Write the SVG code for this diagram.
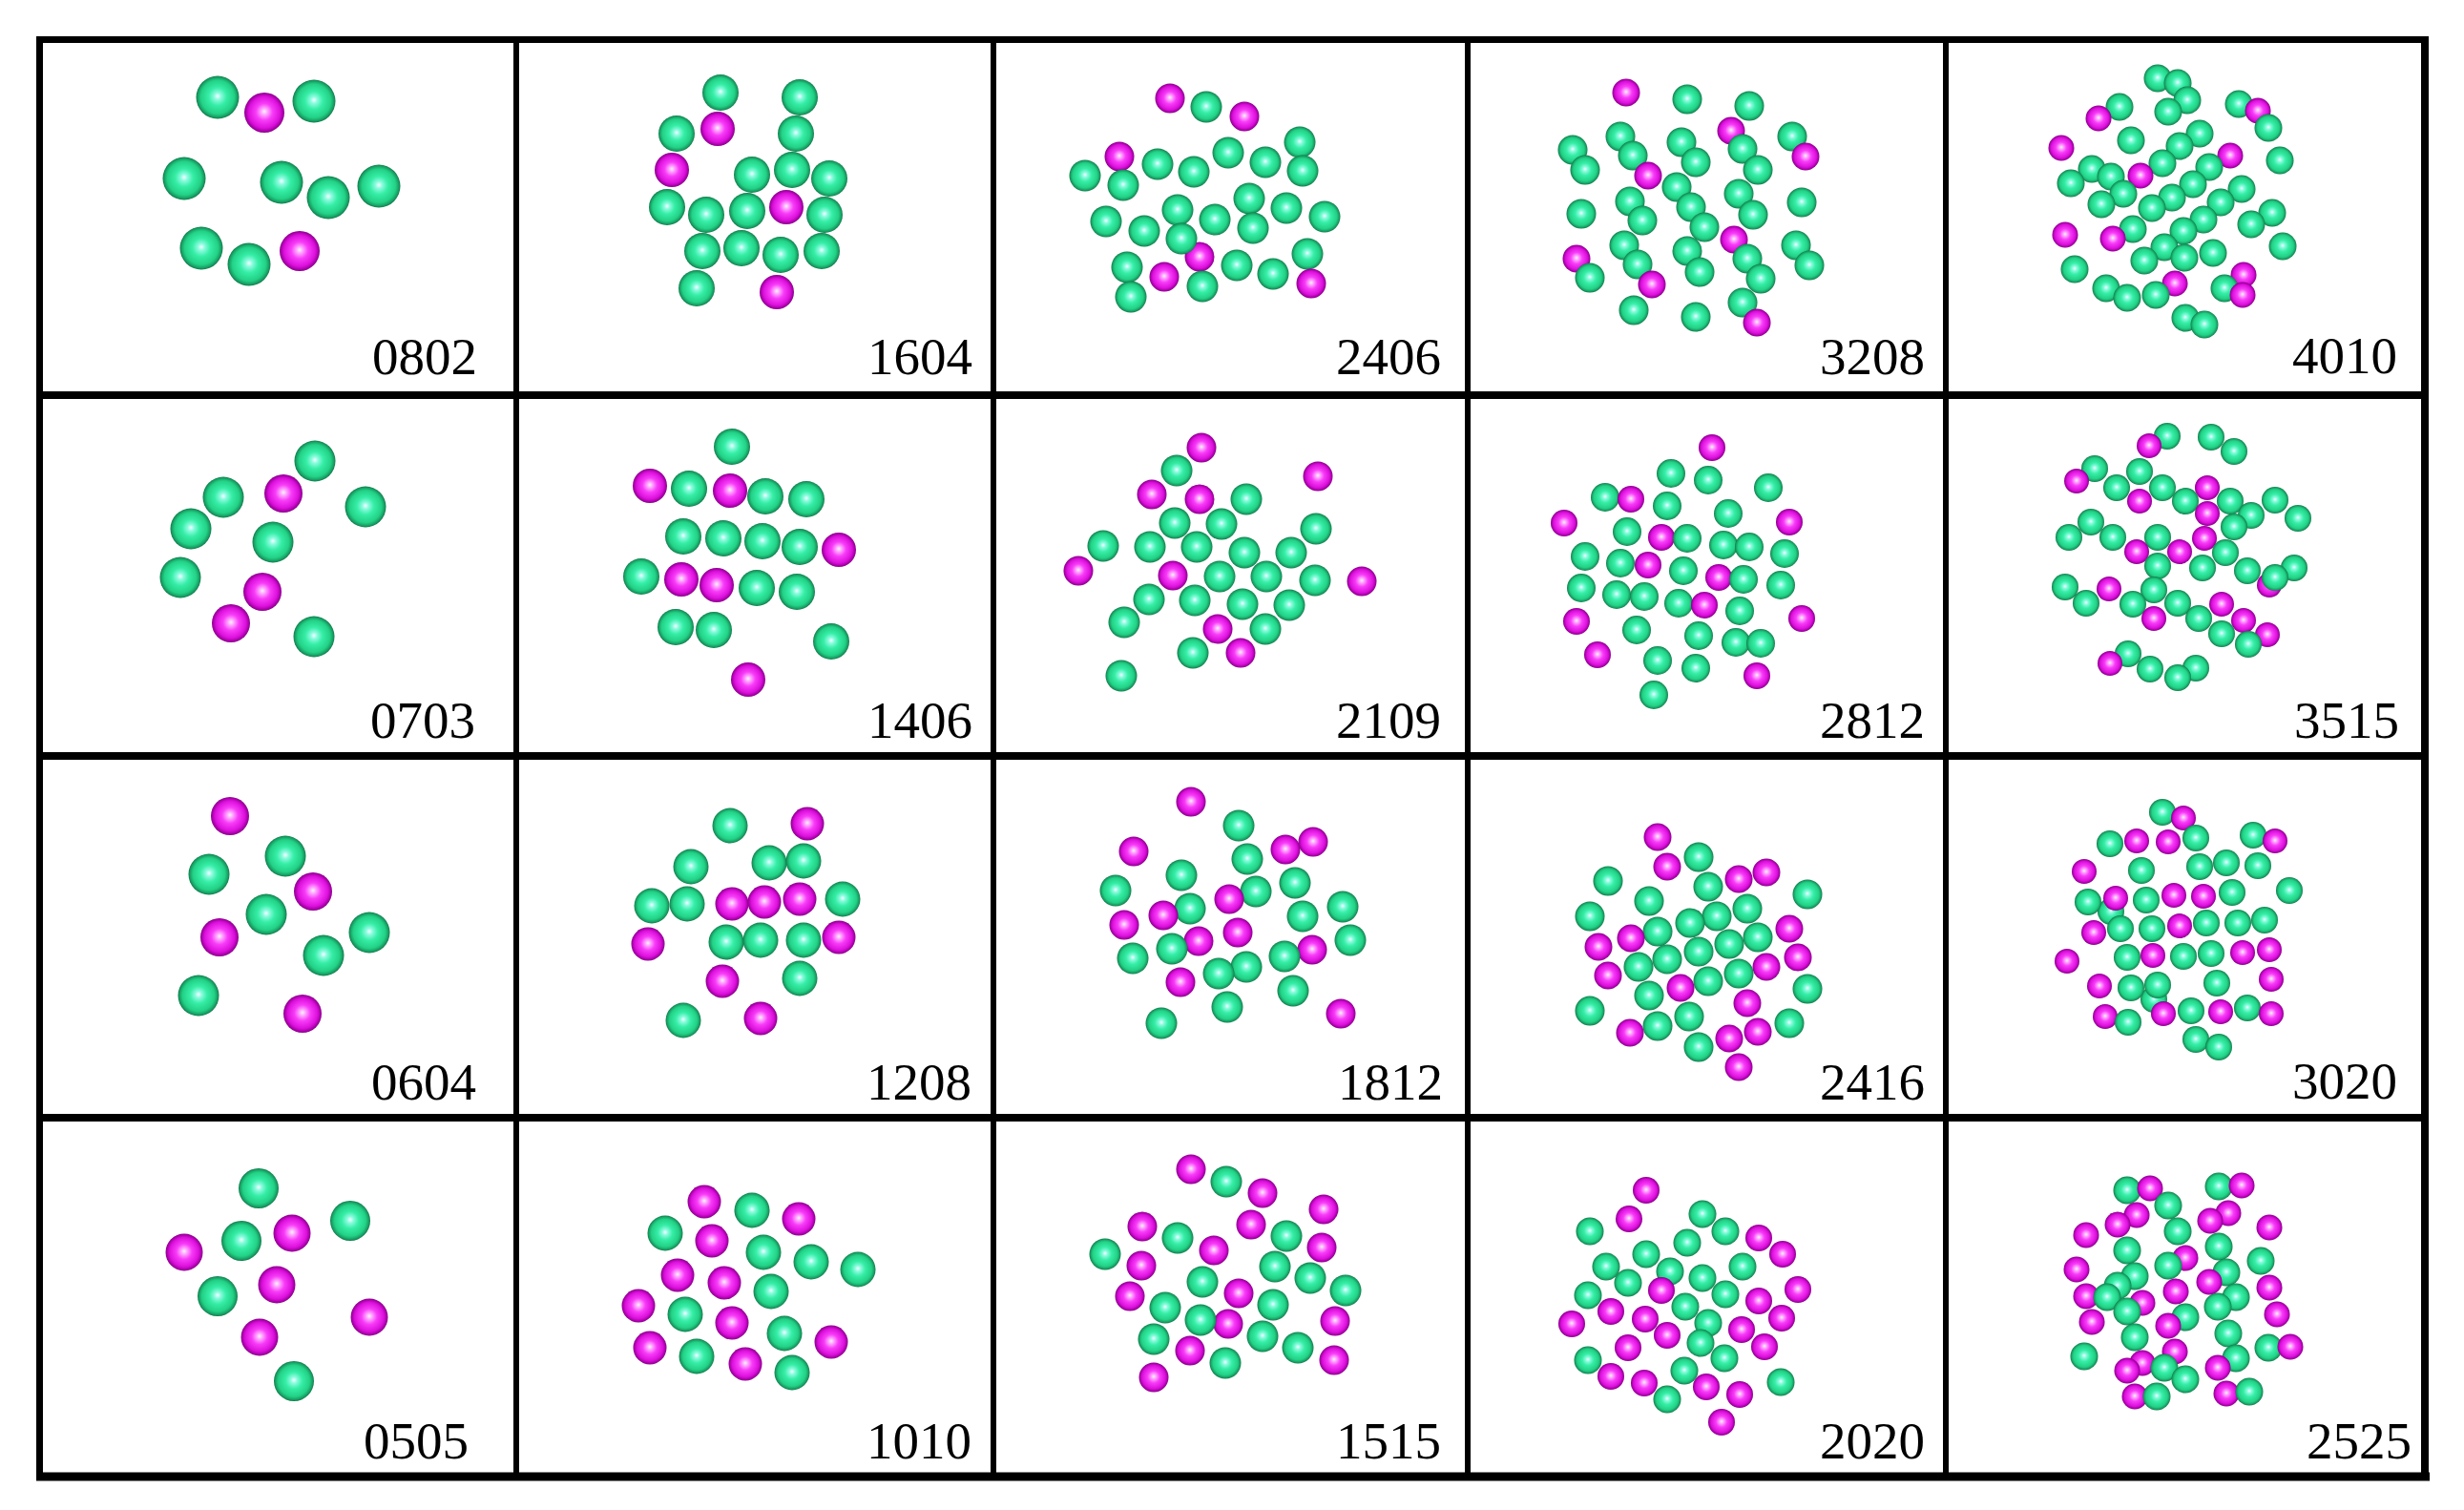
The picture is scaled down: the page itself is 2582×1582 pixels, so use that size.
<svg xmlns="http://www.w3.org/2000/svg" width="2582" height="1582" viewBox="0 0 2582 1582">
<style>
.g{fill:url(#gG)}
.m{fill:url(#gM)}
.ln{stroke:#000;fill:none}
.lbl{font-family:"Liberation Serif","Times New Roman",serif;font-size:55px;fill:#000;text-anchor:end}
</style>
<defs>
<radialGradient id="gG" cx="0.5" cy="0.5" r="0.5" fx="0.5" fy="0.47">
<stop offset="0" stop-color="#f2fffc"/>
<stop offset="0.16" stop-color="#8cfbe0"/>
<stop offset="0.42" stop-color="#36eea6"/>
<stop offset="0.78" stop-color="#22d186"/>
<stop offset="0.93" stop-color="#179e62"/>
<stop offset="1" stop-color="#10784c"/>
</radialGradient>
<radialGradient id="gM" cx="0.5" cy="0.5" r="0.5" fx="0.5" fy="0.47">
<stop offset="0" stop-color="#fff2ff"/>
<stop offset="0.16" stop-color="#ffa6ff"/>
<stop offset="0.42" stop-color="#f83cf8"/>
<stop offset="0.78" stop-color="#dc10dc"/>
<stop offset="0.93" stop-color="#a800a8"/>
<stop offset="1" stop-color="#860086"/>
</radialGradient>
</defs>
<rect width="2582" height="1582" fill="#fff"/>

<g id="c0802">
<circle class="g" cx="228" cy="102" r="22.5"/><circle class="m" cx="277" cy="118" r="21"/><circle class="g" cx="329" cy="106" r="22.5"/><circle class="g" cx="193" cy="187" r="22.5"/><circle class="g" cx="295" cy="191" r="22.5"/><circle class="g" cx="344" cy="207" r="22.5"/><circle class="g" cx="397" cy="195" r="22.5"/><circle class="g" cx="211" cy="260" r="22.5"/><circle class="g" cx="261" cy="277" r="22.5"/><circle class="m" cx="314" cy="263" r="21"/>
<text class="lbl" x="500" y="392">0802</text>
</g>
<g id="c1604">
<circle class="g" cx="755" cy="97" r="19"/><circle class="g" cx="838" cy="102" r="19"/><circle class="g" cx="709" cy="140" r="19"/><circle class="m" cx="752" cy="135" r="18"/><circle class="g" cx="834" cy="140" r="19"/><circle class="m" cx="704" cy="178" r="18"/><circle class="g" cx="788" cy="183" r="19"/><circle class="g" cx="830" cy="178" r="19"/><circle class="g" cx="869" cy="187" r="19"/><circle class="g" cx="699" cy="217" r="19"/><circle class="g" cx="740" cy="225" r="19"/><circle class="g" cx="783" cy="221" r="19"/><circle class="m" cx="824" cy="217" r="18"/><circle class="g" cx="864" cy="225" r="19"/><circle class="g" cx="736" cy="263" r="19"/><circle class="g" cx="777" cy="260" r="19"/><circle class="g" cx="818" cy="267" r="19"/><circle class="g" cx="861" cy="263" r="19"/><circle class="g" cx="730" cy="302" r="19"/><circle class="m" cx="814" cy="306" r="18"/>
<text class="lbl" x="1019" y="392">1604</text>
</g>
<g id="c2406">
<circle class="m" cx="1226" cy="103" r="15.5"/><circle class="g" cx="1264" cy="112" r="16.5"/><circle class="m" cx="1304" cy="122" r="15.5"/><circle class="m" cx="1173" cy="164" r="15.5"/><circle class="g" cx="1287" cy="160" r="16.5"/><circle class="g" cx="1362" cy="149" r="16.5"/><circle class="g" cx="1137" cy="184" r="16.5"/><circle class="g" cx="1213" cy="172" r="16.5"/><circle class="g" cx="1251" cy="180" r="16.5"/><circle class="g" cx="1326" cy="170" r="16.5"/><circle class="g" cx="1365" cy="179" r="16.5"/><circle class="g" cx="1177" cy="194" r="16.5"/><circle class="g" cx="1309" cy="208" r="16.5"/><circle class="g" cx="1234" cy="220" r="16.5"/><circle class="g" cx="1348" cy="218" r="16.5"/><circle class="g" cx="1159" cy="232" r="16.5"/><circle class="g" cx="1199" cy="242" r="16.5"/><circle class="g" cx="1273" cy="230" r="16.5"/><circle class="g" cx="1388" cy="227" r="16.5"/><circle class="g" cx="1313" cy="239" r="16.5"/><circle class="m" cx="1257" cy="269" r="15.5"/><circle class="g" cx="1238" cy="250" r="16.5"/><circle class="g" cx="1370" cy="266" r="16.5"/><circle class="g" cx="1181" cy="280" r="16.5"/><circle class="m" cx="1220" cy="290" r="15.5"/><circle class="g" cx="1296" cy="278" r="16.5"/><circle class="g" cx="1334" cy="287" r="16.5"/><circle class="g" cx="1260" cy="300" r="16.5"/><circle class="m" cx="1374" cy="297" r="15.5"/><circle class="g" cx="1185" cy="311" r="16.5"/>
<text class="lbl" x="1510" y="392">2406</text>
</g>
<g id="c3208">
<circle class="m" cx="1704" cy="97" r="14.5"/><circle class="g" cx="1768" cy="104" r="15.5"/><circle class="g" cx="1833" cy="111" r="15.5"/><circle class="m" cx="1814" cy="137" r="14.5"/><circle class="g" cx="1878" cy="143" r="15.5"/><circle class="g" cx="1698" cy="143" r="15.5"/><circle class="g" cx="1762" cy="149" r="15.5"/><circle class="g" cx="1648" cy="157" r="15.5"/><circle class="g" cx="1826" cy="156" r="15.5"/><circle class="m" cx="1892" cy="164" r="14.5"/><circle class="g" cx="1711" cy="163" r="15.5"/><circle class="g" cx="1661" cy="178" r="15.5"/><circle class="g" cx="1777" cy="170" r="15.5"/><circle class="g" cx="1842" cy="178" r="15.5"/><circle class="m" cx="1727" cy="184" r="14.5"/><circle class="g" cx="1757" cy="196" r="15.5"/><circle class="g" cx="1822" cy="203" r="15.5"/><circle class="g" cx="1708" cy="211" r="15.5"/><circle class="g" cx="1888" cy="212" r="15.5"/><circle class="g" cx="1657" cy="224" r="15.5"/><circle class="g" cx="1772" cy="217" r="15.5"/><circle class="g" cx="1837" cy="225" r="15.5"/><circle class="g" cx="1721" cy="231" r="15.5"/><circle class="g" cx="1786" cy="238" r="15.5"/><circle class="m" cx="1817" cy="251" r="14.5"/><circle class="g" cx="1702" cy="257" r="15.5"/><circle class="g" cx="1882" cy="257" r="15.5"/><circle class="g" cx="1768" cy="263" r="15.5"/><circle class="m" cx="1652" cy="271" r="14.5"/><circle class="g" cx="1716" cy="277" r="15.5"/><circle class="g" cx="1831" cy="271" r="15.5"/><circle class="g" cx="1896" cy="278" r="15.5"/><circle class="g" cx="1666" cy="291" r="15.5"/><circle class="g" cx="1781" cy="285" r="15.5"/><circle class="g" cx="1845" cy="292" r="15.5"/><circle class="m" cx="1731" cy="298" r="14.5"/><circle class="g" cx="1712" cy="325" r="15.5"/><circle class="g" cx="1777" cy="332" r="15.5"/><circle class="g" cx="1826" cy="317" r="15.5"/><circle class="m" cx="1841" cy="338" r="14.5"/>
<text class="lbl" x="2017" y="392">3208</text>
</g>
<g id="c4010">
<circle class="g" cx="2261" cy="82" r="14.5"/><circle class="g" cx="2282" cy="87" r="14.5"/><circle class="g" cx="2292" cy="105" r="14.5"/><circle class="g" cx="2221" cy="112" r="14.5"/><circle class="m" cx="2199" cy="124" r="13.5"/><circle class="g" cx="2272" cy="117" r="14.5"/><circle class="g" cx="2346" cy="109" r="14.5"/><circle class="m" cx="2366" cy="116" r="13.5"/><circle class="g" cx="2377" cy="134" r="14.5"/><circle class="g" cx="2305" cy="140" r="14.5"/><circle class="g" cx="2233" cy="147" r="14.5"/><circle class="g" cx="2284" cy="153" r="14.5"/><circle class="m" cx="2160" cy="155" r="13.5"/><circle class="m" cx="2337" cy="163" r="13.5"/><circle class="g" cx="2389" cy="168" r="14.5"/><circle class="g" cx="2266" cy="171" r="14.5"/><circle class="g" cx="2192" cy="177" r="14.5"/><circle class="g" cx="2315" cy="175" r="14.5"/><circle class="g" cx="2212" cy="185" r="14.5"/><circle class="m" cx="2243" cy="184" r="13.5"/><circle class="g" cx="2170" cy="192" r="14.5"/><circle class="g" cx="2298" cy="193" r="14.5"/><circle class="g" cx="2349" cy="198" r="14.5"/><circle class="g" cx="2225" cy="203" r="14.5"/><circle class="g" cx="2276" cy="207" r="14.5"/><circle class="g" cx="2327" cy="212" r="14.5"/><circle class="g" cx="2202" cy="214" r="14.5"/><circle class="g" cx="2255" cy="218" r="14.5"/><circle class="g" cx="2381" cy="223" r="14.5"/><circle class="g" cx="2309" cy="230" r="14.5"/><circle class="g" cx="2359" cy="235" r="14.5"/><circle class="g" cx="2235" cy="240" r="14.5"/><circle class="g" cx="2288" cy="242" r="14.5"/><circle class="m" cx="2164" cy="246" r="13.5"/><circle class="m" cx="2214" cy="250" r="13.5"/><circle class="g" cx="2392" cy="258" r="14.5"/><circle class="g" cx="2268" cy="259" r="14.5"/><circle class="g" cx="2319" cy="265" r="14.5"/><circle class="g" cx="2289" cy="270" r="14.5"/><circle class="g" cx="2247" cy="273" r="14.5"/><circle class="g" cx="2174" cy="282" r="14.5"/><circle class="m" cx="2351" cy="288" r="13.5"/><circle class="m" cx="2279" cy="297" r="13.5"/><circle class="g" cx="2207" cy="302" r="14.5"/><circle class="g" cx="2331" cy="302" r="14.5"/><circle class="g" cx="2229" cy="312" r="14.5"/><circle class="g" cx="2259" cy="309" r="14.5"/><circle class="m" cx="2350" cy="309" r="13.5"/><circle class="g" cx="2290" cy="333" r="14.5"/><circle class="g" cx="2310" cy="340" r="14.5"/>
<text class="lbl" x="2512" y="391">4010</text>
</g>

<g id="c0703">
<circle class="g" cx="330" cy="483" r="21.5"/><circle class="g" cx="234" cy="521" r="21.5"/><circle class="m" cx="297" cy="517" r="20"/><circle class="g" cx="383" cy="531" r="21.5"/><circle class="g" cx="200" cy="554" r="21.5"/><circle class="g" cx="286" cy="568" r="21.5"/><circle class="g" cx="189" cy="605" r="21.5"/><circle class="m" cx="275" cy="620" r="20"/><circle class="m" cx="242" cy="653" r="20"/><circle class="g" cx="329" cy="667" r="21.5"/>
<text class="lbl" x="498" y="773">0703</text>
</g>
<g id="c1406">
<circle class="g" cx="767" cy="468" r="19"/><circle class="m" cx="681" cy="509" r="18"/><circle class="g" cx="722" cy="512" r="19"/><circle class="m" cx="765" cy="514" r="18"/><circle class="g" cx="802" cy="520" r="19"/><circle class="g" cx="845" cy="523" r="19"/><circle class="g" cx="716" cy="562" r="19"/><circle class="g" cx="758" cy="564" r="19"/><circle class="g" cx="799" cy="567" r="19"/><circle class="g" cx="838" cy="573" r="19"/><circle class="m" cx="879" cy="576" r="18"/><circle class="g" cx="672" cy="604" r="19"/><circle class="m" cx="714" cy="607" r="18"/><circle class="m" cx="751" cy="613" r="18"/><circle class="g" cx="793" cy="616" r="19"/><circle class="g" cx="835" cy="620" r="19"/><circle class="g" cx="708" cy="657" r="19"/><circle class="g" cx="748" cy="660" r="19"/><circle class="g" cx="871" cy="672" r="19"/><circle class="m" cx="784" cy="712" r="18"/>
<text class="lbl" x="1019" y="773">1406</text>
</g>
<g id="c2109">
<circle class="m" cx="1259" cy="469" r="15.5"/><circle class="g" cx="1233" cy="493" r="16.5"/><circle class="m" cx="1381" cy="499" r="15.5"/><circle class="m" cx="1207" cy="518" r="15.5"/><circle class="m" cx="1257" cy="523" r="15.5"/><circle class="g" cx="1306" cy="523" r="16.5"/><circle class="g" cx="1231" cy="548" r="16.5"/><circle class="g" cx="1280" cy="549" r="16.5"/><circle class="g" cx="1379" cy="554" r="16.5"/><circle class="g" cx="1156" cy="572" r="16.5"/><circle class="g" cx="1205" cy="573" r="16.5"/><circle class="g" cx="1254" cy="573" r="16.5"/><circle class="g" cx="1304" cy="579" r="16.5"/><circle class="g" cx="1353" cy="579" r="16.5"/><circle class="m" cx="1130" cy="598" r="15.5"/><circle class="m" cx="1229" cy="603" r="15.5"/><circle class="g" cx="1278" cy="604" r="16.5"/><circle class="g" cx="1327" cy="604" r="16.5"/><circle class="g" cx="1378" cy="608" r="16.5"/><circle class="m" cx="1427" cy="609" r="15.5"/><circle class="g" cx="1204" cy="628" r="16.5"/><circle class="g" cx="1252" cy="629" r="16.5"/><circle class="g" cx="1302" cy="633" r="16.5"/><circle class="g" cx="1351" cy="634" r="16.5"/><circle class="g" cx="1178" cy="652" r="16.5"/><circle class="m" cx="1276" cy="659" r="15.5"/><circle class="g" cx="1326" cy="659" r="16.5"/><circle class="g" cx="1250" cy="684" r="16.5"/><circle class="m" cx="1300" cy="684" r="15.5"/><circle class="g" cx="1175" cy="708" r="16.5"/>
<text class="lbl" x="1510" y="773">2109</text>
</g>
<g id="c2812">
<circle class="m" cx="1794" cy="469" r="14"/><circle class="g" cx="1751" cy="496" r="15"/><circle class="g" cx="1790" cy="503" r="15"/><circle class="g" cx="1853" cy="511" r="15"/><circle class="g" cx="1682" cy="521" r="15"/><circle class="m" cx="1709" cy="523" r="14"/><circle class="g" cx="1747" cy="530" r="15"/><circle class="g" cx="1811" cy="538" r="15"/><circle class="m" cx="1639" cy="548" r="14"/><circle class="m" cx="1875" cy="547" r="14"/><circle class="g" cx="1705" cy="557" r="15"/><circle class="m" cx="1741" cy="563" r="14"/><circle class="g" cx="1768" cy="564" r="15"/><circle class="g" cx="1806" cy="571" r="15"/><circle class="g" cx="1833" cy="573" r="15"/><circle class="g" cx="1661" cy="583" r="15"/><circle class="g" cx="1698" cy="590" r="15"/><circle class="m" cx="1727" cy="592" r="14"/><circle class="g" cx="1870" cy="580" r="15"/><circle class="g" cx="1764" cy="598" r="15"/><circle class="m" cx="1801" cy="605" r="14"/><circle class="g" cx="1827" cy="607" r="15"/><circle class="g" cx="1657" cy="616" r="15"/><circle class="g" cx="1694" cy="623" r="15"/><circle class="g" cx="1723" cy="625" r="15"/><circle class="g" cx="1759" cy="632" r="15"/><circle class="m" cx="1786" cy="634" r="14"/><circle class="g" cx="1866" cy="613" r="15"/><circle class="g" cx="1823" cy="640" r="15"/><circle class="m" cx="1652" cy="651" r="14"/><circle class="m" cx="1888" cy="648" r="14"/><circle class="g" cx="1715" cy="660" r="15"/><circle class="g" cx="1780" cy="666" r="15"/><circle class="g" cx="1819" cy="673" r="15"/><circle class="g" cx="1845" cy="674" r="15"/><circle class="m" cx="1674" cy="686" r="14"/><circle class="g" cx="1737" cy="692" r="15"/><circle class="g" cx="1777" cy="700" r="15"/><circle class="m" cx="1841" cy="708" r="14"/><circle class="g" cx="1733" cy="728" r="15"/>
<text class="lbl" x="2017" y="773">2812</text>
</g>
<g id="c3515">
<circle class="g" cx="2271" cy="457" r="14"/><circle class="m" cx="2252" cy="467" r="13"/><circle class="g" cx="2317" cy="458" r="14"/><circle class="g" cx="2341" cy="473" r="14"/><circle class="g" cx="2195" cy="491" r="14"/><circle class="m" cx="2176" cy="504" r="13"/><circle class="g" cx="2242" cy="494" r="14"/><circle class="g" cx="2218" cy="511" r="14"/><circle class="g" cx="2266" cy="511" r="14"/><circle class="m" cx="2313" cy="511" r="13"/><circle class="m" cx="2242" cy="525" r="13"/><circle class="g" cx="2290" cy="525" r="14"/><circle class="g" cx="2337" cy="525" r="14"/><circle class="g" cx="2384" cy="524" r="14"/><circle class="m" cx="2313" cy="538" r="13"/><circle class="g" cx="2359" cy="540" r="14"/><circle class="g" cx="2408" cy="543" r="14"/><circle class="g" cx="2191" cy="547" r="14"/><circle class="g" cx="2168" cy="563" r="14"/><circle class="g" cx="2214" cy="563" r="14"/><circle class="g" cx="2261" cy="563" r="14"/><circle class="g" cx="2341" cy="552" r="14"/><circle class="m" cx="2310" cy="564" r="13"/><circle class="m" cx="2239" cy="578" r="13"/><circle class="m" cx="2284" cy="578" r="13"/><circle class="g" cx="2332" cy="579" r="14"/><circle class="g" cx="2261" cy="593" r="14"/><circle class="g" cx="2308" cy="595" r="14"/><circle class="g" cx="2355" cy="598" r="14"/><circle class="g" cx="2404" cy="595" r="14"/><circle class="m" cx="2378" cy="613" r="13"/><circle class="g" cx="2384" cy="605" r="14"/><circle class="g" cx="2164" cy="615" r="14"/><circle class="m" cx="2210" cy="617" r="13"/><circle class="g" cx="2257" cy="618" r="14"/><circle class="g" cx="2186" cy="632" r="14"/><circle class="g" cx="2235" cy="633" r="14"/><circle class="g" cx="2282" cy="632" r="14"/><circle class="m" cx="2328" cy="633" r="13"/><circle class="m" cx="2257" cy="648" r="13"/><circle class="g" cx="2304" cy="648" r="14"/><circle class="m" cx="2351" cy="650" r="13"/><circle class="m" cx="2376" cy="665" r="13"/><circle class="g" cx="2328" cy="664" r="14"/><circle class="g" cx="2356" cy="675" r="14"/><circle class="g" cx="2230" cy="685" r="14"/><circle class="m" cx="2211" cy="695" r="13"/><circle class="g" cx="2253" cy="701" r="14"/><circle class="g" cx="2301" cy="700" r="14"/><circle class="g" cx="2282" cy="710" r="14"/>
<text class="lbl" x="2514" y="773">3515</text>
</g>

<g id="c0604">
<circle class="m" cx="241" cy="855" r="20"/><circle class="g" cx="299" cy="897" r="21.5"/><circle class="g" cx="219" cy="916" r="21.5"/><circle class="m" cx="328" cy="934" r="20"/><circle class="g" cx="279" cy="958" r="21.5"/><circle class="m" cx="230" cy="982" r="20"/><circle class="g" cx="387" cy="977" r="21.5"/><circle class="g" cx="339" cy="1001" r="21.5"/><circle class="g" cx="208" cy="1043" r="21.5"/><circle class="m" cx="317" cy="1062" r="20"/>
<text class="lbl" x="499" y="1152">0604</text>
</g>
<g id="c1208">
<circle class="g" cx="765" cy="865" r="18.5"/><circle class="m" cx="846" cy="863" r="17.5"/><circle class="g" cx="724" cy="908" r="18.5"/><circle class="g" cx="806" cy="904" r="18.5"/><circle class="g" cx="842" cy="902" r="18.5"/><circle class="g" cx="683" cy="949" r="18.5"/><circle class="g" cx="720" cy="947" r="18.5"/><circle class="m" cx="767" cy="947" r="17.5"/><circle class="m" cx="801" cy="945" r="17.5"/><circle class="m" cx="838" cy="942" r="17.5"/><circle class="g" cx="883" cy="942" r="18.5"/><circle class="m" cx="679" cy="989" r="17.5"/><circle class="g" cx="761" cy="987" r="18.5"/><circle class="g" cx="797" cy="985" r="18.5"/><circle class="g" cx="842" cy="985" r="18.5"/><circle class="m" cx="879" cy="982" r="17.5"/><circle class="m" cx="757" cy="1028" r="17.5"/><circle class="g" cx="838" cy="1025" r="18.5"/><circle class="g" cx="716" cy="1069" r="18.5"/><circle class="m" cx="797" cy="1067" r="17.5"/>
<text class="lbl" x="1018" y="1152">1208</text>
</g>
<g id="c1812">
<circle class="m" cx="1248" cy="840" r="15.5"/><circle class="g" cx="1298" cy="865" r="16.5"/><circle class="m" cx="1188" cy="892" r="15.5"/><circle class="g" cx="1307" cy="900" r="16.5"/><circle class="m" cx="1347" cy="890" r="15.5"/><circle class="m" cx="1376" cy="882" r="15.5"/><circle class="g" cx="1238" cy="917" r="16.5"/><circle class="g" cx="1357" cy="925" r="16.5"/><circle class="g" cx="1169" cy="933" r="16.5"/><circle class="g" cx="1316" cy="934" r="16.5"/><circle class="m" cx="1288" cy="942" r="15.5"/><circle class="g" cx="1247" cy="952" r="16.5"/><circle class="m" cx="1219" cy="959" r="15.5"/><circle class="g" cx="1365" cy="960" r="16.5"/><circle class="g" cx="1407" cy="950" r="16.5"/><circle class="m" cx="1178" cy="969" r="15.5"/><circle class="m" cx="1297" cy="977" r="15.5"/><circle class="m" cx="1256" cy="986" r="15.5"/><circle class="g" cx="1228" cy="994" r="16.5"/><circle class="g" cx="1415" cy="985" r="16.5"/><circle class="g" cx="1187" cy="1004" r="16.5"/><circle class="m" cx="1375" cy="995" r="15.5"/><circle class="g" cx="1346" cy="1002" r="16.5"/><circle class="g" cx="1306" cy="1013" r="16.5"/><circle class="g" cx="1277" cy="1020" r="16.5"/><circle class="m" cx="1237" cy="1029" r="15.5"/><circle class="g" cx="1355" cy="1038" r="16.5"/><circle class="g" cx="1286" cy="1055" r="16.5"/><circle class="m" cx="1405" cy="1062" r="15.5"/><circle class="g" cx="1217" cy="1072" r="16.5"/>
<text class="lbl" x="1512" y="1152">1812</text>
</g>
<g id="c2416">
<circle class="m" cx="1737" cy="877" r="14.5"/><circle class="g" cx="1780" cy="898" r="15.5"/><circle class="m" cx="1747" cy="908" r="14.5"/><circle class="m" cx="1851" cy="914" r="14.5"/><circle class="m" cx="1822" cy="921" r="14.5"/><circle class="g" cx="1685" cy="923" r="15.5"/><circle class="g" cx="1790" cy="929" r="15.5"/><circle class="g" cx="1894" cy="937" r="15.5"/><circle class="g" cx="1728" cy="944" r="15.5"/><circle class="g" cx="1831" cy="952" r="15.5"/><circle class="g" cx="1666" cy="960" r="15.5"/><circle class="g" cx="1799" cy="960" r="15.5"/><circle class="g" cx="1771" cy="967" r="15.5"/><circle class="m" cx="1875" cy="973" r="14.5"/><circle class="g" cx="1737" cy="976" r="15.5"/><circle class="m" cx="1709" cy="983" r="14.5"/><circle class="g" cx="1842" cy="982" r="15.5"/><circle class="m" cx="1675" cy="992" r="14.5"/><circle class="g" cx="1780" cy="997" r="15.5"/><circle class="g" cx="1812" cy="989" r="15.5"/><circle class="m" cx="1884" cy="1003" r="14.5"/><circle class="g" cx="1747" cy="1005" r="15.5"/><circle class="g" cx="1717" cy="1013" r="15.5"/><circle class="m" cx="1851" cy="1013" r="14.5"/><circle class="g" cx="1822" cy="1020" r="15.5"/><circle class="m" cx="1685" cy="1022" r="14.5"/><circle class="g" cx="1790" cy="1028" r="15.5"/><circle class="m" cx="1761" cy="1035" r="14.5"/><circle class="g" cx="1894" cy="1036" r="15.5"/><circle class="g" cx="1728" cy="1043" r="15.5"/><circle class="m" cx="1831" cy="1051" r="14.5"/><circle class="g" cx="1666" cy="1059" r="15.5"/><circle class="g" cx="1770" cy="1065" r="15.5"/><circle class="g" cx="1875" cy="1072" r="15.5"/><circle class="g" cx="1737" cy="1075" r="15.5"/><circle class="m" cx="1842" cy="1081" r="14.5"/><circle class="m" cx="1708" cy="1082" r="14.5"/><circle class="m" cx="1812" cy="1088" r="14.5"/><circle class="g" cx="1780" cy="1097" r="15.5"/><circle class="m" cx="1822" cy="1118" r="14.5"/>
<text class="lbl" x="2017" y="1152">2416</text>
</g>
<g id="c3020">
<circle class="g" cx="2266" cy="851" r="14"/><circle class="m" cx="2288" cy="857" r="13"/><circle class="g" cx="2211" cy="884" r="14"/><circle class="m" cx="2239" cy="881" r="13"/><circle class="m" cx="2272" cy="882" r="13"/><circle class="g" cx="2301" cy="878" r="14"/><circle class="g" cx="2361" cy="875" r="14"/><circle class="m" cx="2384" cy="881" r="13"/><circle class="m" cx="2184" cy="913" r="13"/><circle class="g" cx="2244" cy="912" r="14"/><circle class="g" cx="2305" cy="908" r="14"/><circle class="g" cx="2333" cy="904" r="14"/><circle class="g" cx="2366" cy="907" r="14"/><circle class="g" cx="2399" cy="933" r="14"/><circle class="g" cx="2212" cy="955" r="14"/><circle class="g" cx="2188" cy="945" r="14"/><circle class="m" cx="2217" cy="941" r="13"/><circle class="g" cx="2249" cy="943" r="14"/><circle class="m" cx="2278" cy="938" r="13"/><circle class="m" cx="2309" cy="939" r="13"/><circle class="g" cx="2339" cy="935" r="14"/><circle class="m" cx="2194" cy="977" r="13"/><circle class="g" cx="2222" cy="973" r="14"/><circle class="g" cx="2255" cy="973" r="14"/><circle class="m" cx="2284" cy="970" r="13"/><circle class="g" cx="2312" cy="967" r="14"/><circle class="g" cx="2345" cy="967" r="14"/><circle class="g" cx="2373" cy="964" r="14"/><circle class="m" cx="2166" cy="1007" r="13"/><circle class="g" cx="2229" cy="1003" r="14"/><circle class="m" cx="2256" cy="1001" r="13"/><circle class="g" cx="2288" cy="1002" r="14"/><circle class="g" cx="2317" cy="999" r="14"/><circle class="m" cx="2350" cy="998" r="13"/><circle class="m" cx="2378" cy="995" r="13"/><circle class="g" cx="2257" cy="1047" r="14"/><circle class="m" cx="2200" cy="1033" r="13"/><circle class="g" cx="2233" cy="1035" r="14"/><circle class="g" cx="2261" cy="1032" r="14"/><circle class="g" cx="2323" cy="1030" r="14"/><circle class="m" cx="2380" cy="1026" r="13"/><circle class="m" cx="2206" cy="1065" r="13"/><circle class="g" cx="2230" cy="1071" r="14"/><circle class="m" cx="2267" cy="1062" r="13"/><circle class="g" cx="2296" cy="1059" r="14"/><circle class="m" cx="2327" cy="1060" r="13"/><circle class="g" cx="2355" cy="1056" r="14"/><circle class="m" cx="2380" cy="1062" r="13"/><circle class="g" cx="2301" cy="1089" r="14"/><circle class="g" cx="2325" cy="1097" r="14"/>
<text class="lbl" x="2512" y="1151">3020</text>
</g>

<g id="c0505">
<circle class="g" cx="271" cy="1245" r="21"/><circle class="g" cx="367" cy="1279" r="21"/><circle class="m" cx="306" cy="1292" r="19.5"/><circle class="g" cx="253" cy="1300" r="21"/><circle class="m" cx="193" cy="1312" r="19.5"/><circle class="m" cx="290" cy="1346" r="19.5"/><circle class="g" cx="228" cy="1358" r="21"/><circle class="m" cx="387" cy="1380" r="19.5"/><circle class="m" cx="272" cy="1401" r="19.5"/><circle class="g" cx="308" cy="1447" r="21"/>
<text class="lbl" x="491" y="1528">0505</text>
</g>
<g id="c1010">
<circle class="m" cx="738" cy="1259" r="17.5"/><circle class="g" cx="788" cy="1268" r="18.5"/><circle class="m" cx="837" cy="1277" r="17.5"/><circle class="g" cx="697" cy="1292" r="18.5"/><circle class="m" cx="746" cy="1300" r="17.5"/><circle class="g" cx="800" cy="1312" r="18.5"/><circle class="g" cx="850" cy="1322" r="18.5"/><circle class="g" cx="899" cy="1330" r="18.5"/><circle class="m" cx="710" cy="1336" r="17.5"/><circle class="m" cx="759" cy="1344" r="17.5"/><circle class="g" cx="808" cy="1353" r="18.5"/><circle class="m" cx="669" cy="1368" r="17.5"/><circle class="g" cx="718" cy="1377" r="18.5"/><circle class="m" cx="767" cy="1386" r="17.5"/><circle class="g" cx="822" cy="1397" r="18.5"/><circle class="m" cx="871" cy="1406" r="17.5"/><circle class="m" cx="681" cy="1412" r="17.5"/><circle class="g" cx="730" cy="1421" r="18.5"/><circle class="m" cx="781" cy="1429" r="17.5"/><circle class="g" cx="830" cy="1438" r="18.5"/>
<text class="lbl" x="1018" y="1528">1010</text>
</g>
<g id="c1515">
<circle class="m" cx="1248" cy="1225" r="15.5"/><circle class="g" cx="1285" cy="1238" r="16.5"/><circle class="m" cx="1323" cy="1250" r="15.5"/><circle class="m" cx="1387" cy="1267" r="15.5"/><circle class="m" cx="1197" cy="1285" r="15.5"/><circle class="g" cx="1234" cy="1297" r="16.5"/><circle class="m" cx="1311" cy="1283" r="15.5"/><circle class="g" cx="1348" cy="1295" r="16.5"/><circle class="g" cx="1158" cy="1314" r="16.5"/><circle class="m" cx="1272" cy="1310" r="15.5"/><circle class="m" cx="1385" cy="1307" r="15.5"/><circle class="m" cx="1196" cy="1326" r="15.5"/><circle class="g" cx="1336" cy="1327" r="16.5"/><circle class="g" cx="1260" cy="1343" r="16.5"/><circle class="g" cx="1373" cy="1339" r="16.5"/><circle class="g" cx="1410" cy="1352" r="16.5"/><circle class="m" cx="1184" cy="1358" r="15.5"/><circle class="m" cx="1298" cy="1355" r="15.5"/><circle class="g" cx="1221" cy="1370" r="16.5"/><circle class="g" cx="1334" cy="1367" r="16.5"/><circle class="m" cx="1287" cy="1387" r="15.5"/><circle class="g" cx="1258" cy="1383" r="16.5"/><circle class="m" cx="1399" cy="1384" r="15.5"/><circle class="g" cx="1209" cy="1403" r="16.5"/><circle class="g" cx="1323" cy="1400" r="16.5"/><circle class="g" cx="1360" cy="1412" r="16.5"/><circle class="m" cx="1247" cy="1415" r="15.5"/><circle class="m" cx="1398" cy="1425" r="15.5"/><circle class="g" cx="1284" cy="1428" r="16.5"/><circle class="m" cx="1209" cy="1443" r="15.5"/>
<text class="lbl" x="1510" y="1528">1515</text>
</g>
<g id="c2020">
<circle class="m" cx="1725" cy="1247" r="14"/><circle class="g" cx="1784" cy="1272" r="14.5"/><circle class="m" cx="1707" cy="1277" r="14"/><circle class="g" cx="1666" cy="1290" r="14.5"/><circle class="g" cx="1808" cy="1290" r="14.5"/><circle class="m" cx="1843" cy="1297" r="14"/><circle class="g" cx="1768" cy="1302" r="14.5"/><circle class="m" cx="1868" cy="1314" r="14"/><circle class="g" cx="1725" cy="1314" r="14.5"/><circle class="g" cx="1683" cy="1327" r="14.5"/><circle class="g" cx="1750" cy="1332" r="14.5"/><circle class="g" cx="1826" cy="1327" r="14.5"/><circle class="g" cx="1784" cy="1339" r="14.5"/><circle class="g" cx="1706" cy="1344" r="14.5"/><circle class="m" cx="1741" cy="1352" r="14"/><circle class="g" cx="1808" cy="1356" r="14.5"/><circle class="m" cx="1884" cy="1351" r="14"/><circle class="g" cx="1664" cy="1357" r="14.5"/><circle class="m" cx="1843" cy="1363" r="14"/><circle class="g" cx="1766" cy="1369" r="14.5"/><circle class="m" cx="1688" cy="1374" r="14"/><circle class="m" cx="1724" cy="1382" r="14"/><circle class="m" cx="1867" cy="1381" r="14"/><circle class="g" cx="1790" cy="1386" r="14.5"/><circle class="m" cx="1647" cy="1387" r="14"/><circle class="m" cx="1825" cy="1393" r="14"/><circle class="m" cx="1747" cy="1399" r="14"/><circle class="m" cx="1849" cy="1411" r="14"/><circle class="g" cx="1782" cy="1407" r="14.5"/><circle class="m" cx="1706" cy="1412" r="14"/><circle class="g" cx="1807" cy="1423" r="14.5"/><circle class="g" cx="1664" cy="1425" r="14.5"/><circle class="g" cx="1765" cy="1436" r="14.5"/><circle class="m" cx="1688" cy="1442" r="14"/><circle class="g" cx="1866" cy="1448" r="14.5"/><circle class="m" cx="1723" cy="1449" r="14"/><circle class="m" cx="1788" cy="1453" r="14"/><circle class="m" cx="1823" cy="1461" r="14"/><circle class="g" cx="1747" cy="1466" r="14.5"/><circle class="m" cx="1804" cy="1490" r="14"/>
<text class="lbl" x="2017" y="1528">2020</text>
</g>
<g id="c2525">
<circle class="g" cx="2229" cy="1247" r="14.5"/><circle class="m" cx="2253" cy="1245" r="13.5"/><circle class="g" cx="2325" cy="1243" r="14.5"/><circle class="m" cx="2349" cy="1242" r="13.5"/><circle class="g" cx="2272" cy="1263" r="14.5"/><circle class="m" cx="2239" cy="1273" r="13.5"/><circle class="m" cx="2219" cy="1283" r="13.5"/><circle class="m" cx="2335" cy="1271" r="13.5"/><circle class="m" cx="2316" cy="1279" r="13.5"/><circle class="m" cx="2378" cy="1286" r="13.5"/><circle class="m" cx="2186" cy="1294" r="13.5"/><circle class="g" cx="2282" cy="1290" r="14.5"/><circle class="g" cx="2229" cy="1310" r="14.5"/><circle class="g" cx="2325" cy="1306" r="14.5"/><circle class="m" cx="2290" cy="1318" r="13.5"/><circle class="g" cx="2272" cy="1326" r="14.5"/><circle class="g" cx="2369" cy="1321" r="14.5"/><circle class="m" cx="2176" cy="1330" r="13.5"/><circle class="g" cx="2237" cy="1337" r="14.5"/><circle class="g" cx="2333" cy="1333" r="14.5"/><circle class="m" cx="2315" cy="1343" r="13.5"/><circle class="g" cx="2219" cy="1347" r="14.5"/><circle class="m" cx="2378" cy="1349" r="13.5"/><circle class="m" cx="2186" cy="1358" r="13.5"/><circle class="g" cx="2208" cy="1359" r="14.5"/><circle class="m" cx="2280" cy="1353" r="13.5"/><circle class="g" cx="2343" cy="1359" r="14.5"/><circle class="m" cx="2245" cy="1365" r="13.5"/><circle class="g" cx="2229" cy="1374" r="14.5"/><circle class="g" cx="2324" cy="1369" r="14.5"/><circle class="m" cx="2386" cy="1377" r="13.5"/><circle class="m" cx="2192" cy="1385" r="13.5"/><circle class="g" cx="2290" cy="1380" r="14.5"/><circle class="m" cx="2272" cy="1389" r="13.5"/><circle class="g" cx="2335" cy="1397" r="14.5"/><circle class="g" cx="2237" cy="1401" r="14.5"/><circle class="g" cx="2377" cy="1412" r="14.5"/><circle class="m" cx="2400" cy="1411" r="13.5"/><circle class="g" cx="2184" cy="1421" r="14.5"/><circle class="m" cx="2279" cy="1416" r="13.5"/><circle class="m" cx="2245" cy="1428" r="13.5"/><circle class="g" cx="2343" cy="1423" r="14.5"/><circle class="m" cx="2229" cy="1436" r="13.5"/><circle class="g" cx="2268" cy="1433" r="14.5"/><circle class="m" cx="2324" cy="1433" r="13.5"/><circle class="g" cx="2290" cy="1445" r="14.5"/><circle class="m" cx="2237" cy="1463" r="13.5"/><circle class="g" cx="2260" cy="1463" r="14.5"/><circle class="m" cx="2333" cy="1460" r="13.5"/><circle class="g" cx="2357" cy="1458" r="14.5"/>
<text class="lbl" x="2527" y="1528">2525</text>
</g>

<g id="grid">
<line class="ln" x1="38" y1="41.5" x2="2545" y2="41.5" stroke-width="7"/>
<line class="ln" x1="38" y1="414" x2="2545" y2="414" stroke-width="8"/>
<line class="ln" x1="38" y1="792" x2="2545" y2="792" stroke-width="8"/>
<line class="ln" x1="38" y1="1171" x2="2545" y2="1171" stroke-width="8"/>
<line class="ln" x1="38" y1="1547" x2="2546" y2="1547" stroke-width="9"/>
<line class="ln" x1="41.5" y1="38" x2="41.5" y2="1551" stroke-width="7"/>
<line class="ln" x1="541" y1="38" x2="541" y2="1551" stroke-width="6"/>
<line class="ln" x1="1041" y1="38" x2="1041" y2="1551" stroke-width="6"/>
<line class="ln" x1="1538" y1="38" x2="1538" y2="1551" stroke-width="6"/>
<line class="ln" x1="2039" y1="38" x2="2039" y2="1551" stroke-width="6"/>
<line class="ln" x1="2541" y1="38" x2="2541" y2="1551" stroke-width="8"/>
</g>
</svg>
